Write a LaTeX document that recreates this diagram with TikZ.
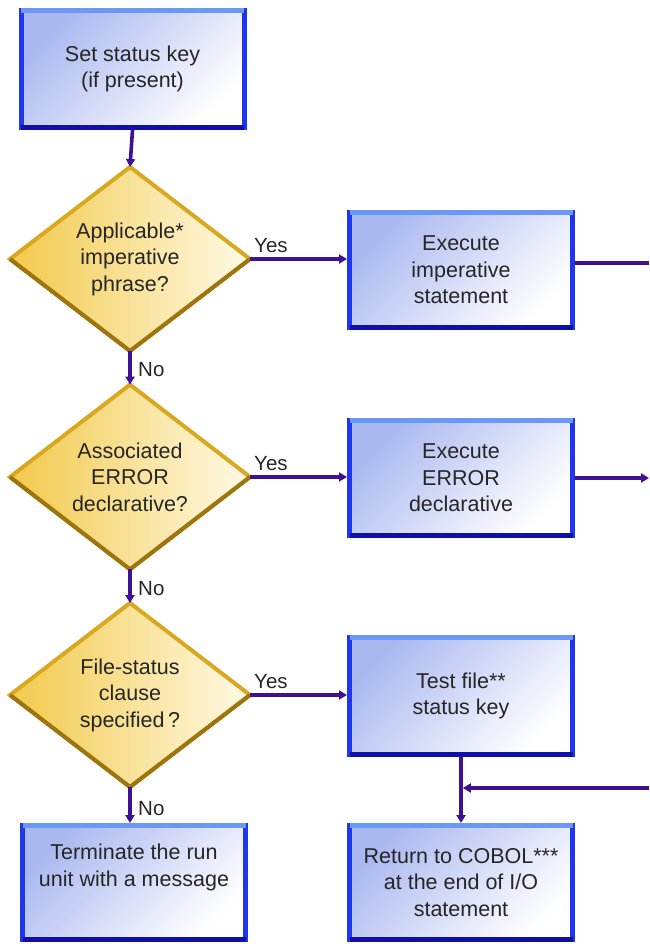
\documentclass[tikz,border=0pt]{standalone}
\usepackage{fontspec}
\setmainfont{Liberation Sans}
\usetikzlibrary{shapes.geometric,arrows.meta}
\definecolor{boxfill}{HTML}{AAB8F0}
\definecolor{boxline}{HTML}{1E36EE}
\definecolor{boxtop}{HTML}{6A98F2}
\definecolor{boxbot}{HTML}{1010A8}
\definecolor{dfillL}{HTML}{F2C94A}
\definecolor{dfillR}{HTML}{FFFAE6}
\definecolor{dline}{HTML}{D9A81E}
\definecolor{dlinedark}{HTML}{9C7410}
\definecolor{arr}{HTML}{3E1096}
\definecolor{txt}{HTML}{262626}
\begin{document}
\begin{tikzpicture}[x=1pt,y=-1pt,
  stepbox/.style={rectangle, draw=boxline, line width=5pt, top color=boxfill, bottom color=white, shading angle=45,
    minimum width=223pt, minimum height=116pt, inner sep=0pt, align=center,
    font=\fontsize{21.5}{26.5}\selectfont, text=txt},
  decision/.style={diamond, draw=dline, line width=4pt, left color=dfillL, right color=dfillR,
    minimum width=240pt, minimum height=184pt, inner sep=0pt, outer sep=0pt, align=center,
    font=\fontsize{21.5}{26.5}\selectfont, text=txt, line join=miter},
  lbl/.style={inner sep=0pt, font=\fontsize{20.5}{24}\selectfont, text=txt, anchor=base west},
  flowline/.style={draw=arr, line width=3.6pt},
  flow/.style={flowline, -{Triangle[length=8pt,width=9pt]}},
  toplight/.style={draw=boxtop, line width=5pt},
  botdark/.style={draw=boxbot, line width=5pt},
  ddark/.style={draw=dlinedark, line width=4pt, line join=miter}
]
\useasboundingbox (0,0) rectangle (649,944);

% process boxes
\node[stepbox, minimum height=117pt] (set) at (132.5,69) {Set status key\\(if present)};
\node[stepbox, minimum height=115pt] (exec1) at (461,270) {Execute\\imperative\\statement};
\node[stepbox, minimum height=115pt] (exec2) at (461,478) {Execute\\ERROR\\declarative};
\node[stepbox, minimum height=117pt] (test) at (461,696) {Test file**\\status key};
\node[stepbox, minimum height=114pt] (term) at (134,882.5) {Terminate the run\\unit with a message\\\strut};
\node[stepbox, minimum height=114pt] (ret) at (461,882.5) {Return to COBOL***\\at the end of I/O\\statement};

% decisions
\node[decision] (d1) at (130,259) {Applicable*\\imperative\\phrase?};
\node[decision] (d2) at (130,477) {Associated\\ERROR\\declarative?};
\node[decision] (d3) at (130,695) {File-status\\clause\\specified\,?};

% bevel edges
\foreach \n in {set,exec1,exec2,test,term,ret}{
  \draw[toplight] ([shift={(2.5pt,-2.5pt)}]\n.north west) -- ([shift={(-2.5pt,-2.5pt)}]\n.north east);
  \draw[botdark] ([shift={(2.5pt,2.5pt)}]\n.south west) -- ([shift={(-2.5pt,2.5pt)}]\n.south east);
}
\foreach \n in {d1,d2,d3}{
  \draw[ddark] (\n.east) -- (\n.south) -- (\n.west);
}

% connectors
\draw[flow] (set.south) -- (d1.north);
\draw[flow] (d1.east) -- (d1.east -| exec1.west);
\draw[flow] (d2.east) -- (d2.east -| exec2.west);
\draw[flow] (d3.east) -- (d3.east -| test.west);
\draw[flow] (d1.south) -- (d2.north);
\draw[flow] (d2.south) -- (d3.north);
\draw[flow] (d3.south) -- (d3.south |- term.north);
\draw[flow] (test.south) -- (ret.north);

\coordinate (e1out) at (649,263);
\coordinate (e2out) at (649,478);
\coordinate (retin) at (649,788);
\draw[flowline] (exec1.east |- e1out) -- (e1out);
\draw[flow] (exec2.east |- e2out) -- (e2out);
\draw[flow, shorten >=1.8pt] (retin) -- (retin -| test.south);

% labels
\node[lbl] (y1) at ([shift={(4pt,7pt)}]d1.east) {Yes};
\node[lbl] (y2) at ([shift={(4pt,7pt)}]d2.east) {Yes};
\node[lbl] (y3) at ([shift={(4pt,7pt)}]d3.east) {Yes};
\node[lbl] (n1) at ([shift={(8pt,8pt)}]d2.north) {No};
\node[lbl] (n2) at ([shift={(8pt,8pt)}]d3.north) {No};
\node[lbl] (n3) at ([shift={(8pt,8pt)}]d3.south |- term.north) {No};
\end{tikzpicture}
\end{document}
